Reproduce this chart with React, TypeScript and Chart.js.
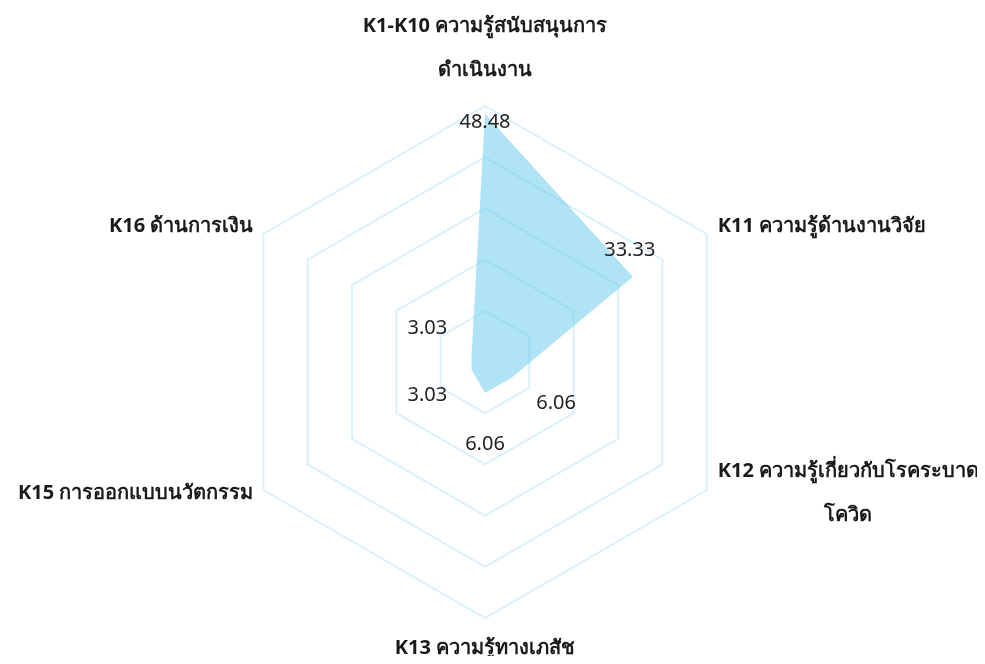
import React, { useEffect, useRef } from "react";
import { Chart, registerables } from "chart.js";

Chart.register(...registerables);

const categories: string[][] = [
  ["K1-K10 ความรู้สนับสนุนการ", "ดำเนินงาน"],
  ["K11 ความรู้ด้านงานวิจัย"],
  ["K12 ความรู้เกี่ยวกับโรคระบาด", "โควิด"],
  ["K13 ความรู้ทางเภสัช"],
  ["K15 การออกแบบนวัตกรรม"],
  ["K16 ด้านการเงิน"],
];
const values: number[] = [48.48, 33.33, 6.06, 6.06, 3.03, 3.03];
const valueLabels: string[] = ["48.48", "33.33", "6.06", "6.06", "3.03", "3.03"];
const scaleMax = 50;
const scaleStep = 10;

const FONT = "Tahoma, 'Noto Sans', 'DejaVu Sans', sans-serif";

const valueLabelPlugin = {
  id: "valueLabels",
  afterDatasetsDraw(chart: any) {
    const scale = chart.scales.r;
    const ctx = chart.ctx;
    ctx.save();
    ctx.font = `20px ${FONT}`;
    ctx.fillStyle = "#222222";
    ctx.textAlign = "center";
    ctx.textBaseline = "middle";
    values.forEach((v, i) => {
      const d = scale.getDistanceFromCenterForValue(v);
      let x: number, y: number;
      if (v < 20) {
        const p = scale.getPointPosition(i, d + 51);
        x = p.x;
        y = p.y;
      } else {
        const p = scale.getPointPosition(i, d);
        x = p.x;
        y = p.y;
        if (i === 0) {
          y += 9;
        } else {
          x -= 3;
          y -= 26;
        }
      }
      ctx.fillText(valueLabels[i], x, y);
    });
    ctx.restore();
  },
};

const pointLabelPlugin = {
  id: "customPointLabels",
  afterDraw(chart: any) {
    const scale = chart.scales.r;
    const ctx = chart.ctx;
    const R = scale.drawingArea;
    const lh = 44;
    ctx.save();
    ctx.font = `bold 20px ${FONT}`;
    ctx.fillStyle = "#1a1a1a";
    ctx.textAlign = "center";
    ctx.textBaseline = "middle";
    categories.forEach((lines, i) => {
      const p = scale.getPointPosition(i, R);
      const w = Math.max(...lines.map((l) => ctx.measureText(l).width));
      const n = lines.length;
      const dx = p.x - scale.xCenter;
      const dy = p.y - scale.yCenter;
      let cx: number;
      let firstY: number;
      if (Math.abs(dx) < 1) {
        cx = p.x;
        if (dy < 0) {
          firstY = p.y - 36 - (n - 1) * lh;
        } else {
          firstY = p.y + 30;
        }
      } else {
        cx = dx > 0 ? p.x + 11 + w / 2 : p.x - 10 - w / 2;
        const mid = p.y + (dy < 0 ? -8 : 3);
        firstY = mid - ((n - 1) * lh) / 2;
      }
      lines.forEach((l, k) => ctx.fillText(l, cx, firstY + k * lh));
    });
    ctx.restore();
  },
};

export default function App() {
  const ref = useRef<HTMLCanvasElement>(null);
  useEffect(() => {
    if (!ref.current) return;
    const chart = new Chart(ref.current, {
      type: "radar",
      data: {
        labels: categories.map((c) => c.join(" ")),
        datasets: [
          {
            data: values,
            backgroundColor: "rgba(100, 200, 240, 0.5)",
            borderWidth: 0,
            borderColor: "rgba(0,0,0,0)",
            pointRadius: 0,
            fill: true,
          },
        ],
      },
      options: {
        animation: false,
        responsive: true,
        maintainAspectRatio: false,
        layout: { padding: { top: 98, bottom: 38, left: 0, right: 15 } },
        plugins: {
          legend: { display: false },
          tooltip: { enabled: false },
        },
        scales: {
          r: {
            min: 0,
            max: scaleMax,
            ticks: { stepSize: scaleStep, display: false },
            angleLines: { display: false },
            grid: { color: "rgba(160, 220, 245, 0.4)", lineWidth: 2 },
            pointLabels: { display: false },
          },
        },
      },
      plugins: [valueLabelPlugin, pointLabelPlugin],
    });
    return () => chart.destroy();
  }, []);
  return (
    <div style={{ width: 969, height: 648 }}>
      <canvas ref={ref} />
    </div>
  );
}
